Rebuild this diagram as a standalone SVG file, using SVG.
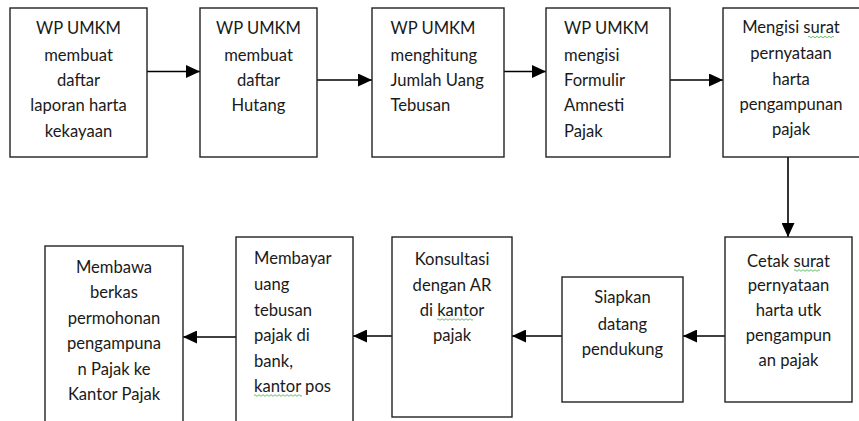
<svg xmlns="http://www.w3.org/2000/svg" width="859" height="421" viewBox="0 0 859 421">
<defs>
<style>
.box{fill:#fff;stroke:#222;stroke-width:1.4}
.t{font-family:Lato,"Liberation Sans",sans-serif;font-size:16.6px;fill:#1a1a1a}
.c{text-anchor:middle}
.conn line{stroke:#000;stroke-width:1.6;marker-end:url(#ah)}
.sq{fill:none;stroke:#5cb85c;stroke-width:0.9}
</style>
<marker id="ah" markerUnits="userSpaceOnUse" markerWidth="14" markerHeight="13" refX="14" refY="6.5" orient="auto">
<path d="M0,0 L14,6.5 L0,13 Z" fill="#000"/>
</marker>
</defs>
<rect width="859" height="421" fill="#fff"/>
<g id="connectors" class="conn">
<line x1="147" y1="71.5" x2="200" y2="71.5"/>
<line x1="317" y1="80" x2="372" y2="80"/>
<line x1="504" y1="71.5" x2="546" y2="71.5"/>
<line x1="670" y1="80" x2="723" y2="80"/>
<line x1="788" y1="157" x2="788" y2="237"/>
<line x1="725" y1="336" x2="683" y2="336"/>
<line x1="562" y1="336" x2="512" y2="336"/>
<line x1="392" y1="336" x2="353" y2="336"/>
<line x1="236" y1="337" x2="183" y2="337"/>
</g>
<g id="n1">
<rect class="box" x="10" y="8" width="137" height="149"/>
<text class="t c" x="78.5"><tspan x="78.5" y="34">WP UMKM</tspan><tspan x="78.5" y="61">membuat</tspan><tspan x="78.5" y="86">daftar</tspan><tspan x="78.5" y="111">laporan harta</tspan><tspan x="78.5" y="137">kekayaan</tspan></text>
</g>
<g id="n2">
<rect class="box" x="200" y="8" width="117" height="149"/>
<text class="t c"><tspan x="258.5" y="34">WP UMKM</tspan><tspan x="258.5" y="61">membuat</tspan><tspan x="258.5" y="86">daftar</tspan><tspan x="258.5" y="111">Hutang</tspan></text>
</g>
<g id="n3">
<rect class="box" x="372" y="8" width="132" height="149"/>
<text class="t"><tspan x="390.5" y="34">WP UMKM</tspan><tspan x="390.5" y="61">menghitung</tspan><tspan x="390.5" y="86">Jumlah Uang</tspan><tspan x="390.5" y="111">Tebusan</tspan></text>
</g>
<g id="n4">
<rect class="box" x="546" y="8" width="124" height="149"/>
<text class="t"><tspan x="564" y="34">WP UMKM</tspan><tspan x="564" y="61">mengisi</tspan><tspan x="564" y="86">Formulir</tspan><tspan x="564" y="111">Amnesti</tspan><tspan x="564" y="137">Pajak</tspan></text>
</g>
<g id="n5">
<rect class="box" x="723" y="8" width="140" height="149"/>
<text class="t c"><tspan x="791" y="33">Mengisi surat</tspan><tspan x="791" y="59">pernyataan</tspan><tspan x="791" y="85">harta</tspan><tspan x="791" y="110">pengampunan</tspan><tspan x="791" y="135">pajak</tspan></text>
<path class="sq" d="M808,37 q1,-1.5 2,0 t2,0 t2,0 t2,0 t2,0 t2,0 t2,0 t2,0 t2,0 t2,0 t2,0 t2,0 t2,0"/>
</g>
<g id="n6">
<rect class="box" x="725" y="237" width="127" height="165"/>
<text class="t c"><tspan x="788.5" y="267">Cetak surat</tspan><tspan x="788.5" y="291">pernyataan</tspan><tspan x="788.5" y="316">harta utk</tspan><tspan x="788.5" y="341">pengampun</tspan><tspan x="788.5" y="366">an pajak</tspan></text>
<path class="sq" d="M794,270.5 q1,-1.5 2,0 t2,0 t2,0 t2,0 t2,0 t2,0 t2,0 t2,0 t2,0 t2,0 t2,0 t2,0 t2,0"/>
</g>
<g id="n7">
<rect class="box" x="562" y="277" width="121" height="125"/>
<text class="t c"><tspan x="622.5" y="303">Siapkan</tspan><tspan x="622.5" y="330">datang</tspan><tspan x="622.5" y="355">pendukung</tspan></text>
</g>
<g id="n8">
<rect class="box" x="392" y="237" width="120" height="180"/>
<text class="t c"><tspan x="452" y="265">Konsultasi</tspan><tspan x="452" y="291">dengan AR</tspan><tspan x="452" y="316">di kantor</tspan><tspan x="452" y="341">pajak</tspan></text>
<path class="sq" d="M437,319.5 q1,-1.5 2,0 t2,0 t2,0 t2,0 t2,0 t2,0 t2,0 t2,0 t2,0 t2,0 t2,0 t2,0 t2,0 t2,0 t2,0 t2,0 t2,0 t2,0"/>
</g>
<g id="n9">
<rect class="box" x="236" y="237" width="117" height="200"/>
<text class="t"><tspan x="254" y="264">Membayar</tspan><tspan x="254" y="290">uang</tspan><tspan x="254" y="316">tebusan</tspan><tspan x="254" y="341">pajak di</tspan><tspan x="254" y="367">bank,</tspan><tspan x="254" y="392">kantor pos</tspan></text>
<path class="sq" d="M254,395.5 q1,-1.5 2,0 t2,0 t2,0 t2,0 t2,0 t2,0 t2,0 t2,0 t2,0 t2,0 t2,0 t2,0 t2,0 t2,0 t2,0 t2,0 t2,0 t2,0 t2,0 t2,0 t2,0 t2,0 t2,0 t2,0"/>
</g>
<g id="n10">
<rect class="box" x="45" y="246" width="138" height="200"/>
<text class="t c"><tspan x="114" y="273">Membawa</tspan><tspan x="114" y="298">berkas</tspan><tspan x="114" y="324">permohonan</tspan><tspan x="114" y="349">pengampuna</tspan><tspan x="114" y="375">n Pajak ke</tspan><tspan x="114" y="400">Kantor Pajak</tspan></text>
</g>
</svg>
